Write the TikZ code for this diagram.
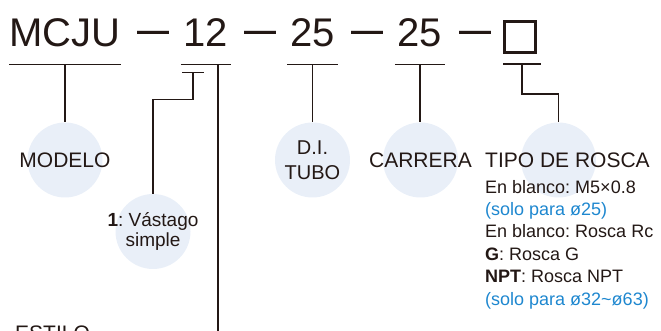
\documentclass[tikz,border=0pt]{standalone}
\usepackage{fontspec}
\setmainfont{Liberation Sans}
\usepackage{tikz}
\frenchspacing
\definecolor{inkdark}{RGB}{35, 24, 21}
\definecolor{bubbleblue}{RGB}{233, 239, 248}
\definecolor{noteblue}{RGB}{30, 135, 207}
\usetikzlibrary{shapes,arrows}
\tikzstyle{part} = [inner sep=0pt, minimum width=50pt, text depth=17pt,
    anchor=base, text=inkdark, font=\fontsize{40}{40}\selectfont]
\tikzstyle{joiner} = [inner sep=0pt, anchor=base, text=inkdark,
    font=\fontsize{32}{32}\selectfont\bfseries]
\tikzstyle{bubble} = [circle, fill=bubbleblue, minimum size=75pt, inner sep=0pt]
\tikzstyle{title} = [text=inkdark, inner sep=0pt, align=center,
    font=\fontsize{21}{25}\selectfont]
\tikzstyle{note} = [text=inkdark, inner sep=0pt, align=left,
    font=\fontsize{18}{22.4}\selectfont]
\tikzstyle{line} = [draw=inkdark, line width=1.2pt]

\begin{document}
\begin{tikzpicture}[x=1pt, y=-1pt, node distance=108pt]
  \useasboundingbox (0,0) rectangle (661,331);
  \clip (0,0) rectangle (661,331);
  \node [part] (mcju) at (65,47) {MCJU};
  \node [joiner] (dash1) at (153,41.6) {—};
  \node [part] (n12) at (206,47) {12};
  \node [joiner] (dash2) at (260,41.6) {—};
  \node [part] (n25a) at (312.5,47) {25};
  \node [joiner] (dash3) at (367,41.6) {—};
  \node [part] (n25b) at (420,47) {25};
  \node [joiner] (dash4) at (475,41.6) {—};
  \node [draw=inkdark, line width=3pt, minimum size=31pt, inner sep=0pt] (slot) at (520,37.5) {};
  \path [line] (mcju.south west) -- (mcju.south east);
  \path [line] (n12.south west) -- (n12.south east);
  \path [line] (n25a.south west) -- (n25a.south east);
  \path [line] (n25b.south west) -- (n25b.south east);
  \coordinate (slot foot) at ([xshift=2pt, yshift=-9.5pt]slot.south);
  \path [line] ([xshift=-19pt]slot foot) -- ([xshift=19pt]slot foot);
  \node [bubble] (modelo) at (65,160) {};
  \node [bubble, right of=modelo, node distance=247.5pt] (tubo) {};
  \node [bubble, right of=tubo] (carrera) {};
  \node [bubble, right of=carrera, node distance=138pt] (rosca) {};
  \node [bubble] (vastago) at (153,231.5) {};
  \node [title] (modelo text) at (modelo) {MODELO};
  \node [title, font=\fontsize{20}{25}\selectfont] (tubo text) at (tubo) {D.I.\\TUBO};
  \node [title] (carrera text) at (carrera) {CARRERA};
  \node [title, anchor=base west] (rosca text) at (485,168) {TIPO DE ROSCA};
  \node [title, font=\fontsize{19}{20}\selectfont] (vastago text) at (vastago) {\textbf{1}: Vástago\\simple};
  \node [note, anchor=base west] (rosca note) at (485,305) {En blanco: M5×0.8\\
    \textcolor{noteblue}{(solo para ø25)}\\
    En blanco: Rosca Rc\\
    \textbf{G}: Rosca G\\
    \textbf{NPT}: Rosca NPT\\
    \textcolor{noteblue}{(solo para ø32\textasciitilde ø63)}};
  \node [title, anchor=base west] (estilo text) at (15,340) {ESTILO};
  \coordinate (stem) at ([xshift=-13pt, yshift=-8pt]n12.south);
  \coordinate (estilo stem) at (218,345);
  \path [line] (mcju.south) -- (modelo.north);
  \path [line] ([xshift=-11pt]stem) -- ([xshift=11pt]stem);
  \path [line] (stem) -- ++(0,27) -| (vastago.north);
  \path [line] ([xshift=12pt]n12.south) -- (estilo stem);
  \path [line] (n25a.south) -- (tubo.north);
  \path [line] (n25b.south) -- (n25b.south |- carrera.north);
  \path [line] (slot foot) -- ++(0,30) -| (rosca.north);
\end{tikzpicture}
\end{document}
